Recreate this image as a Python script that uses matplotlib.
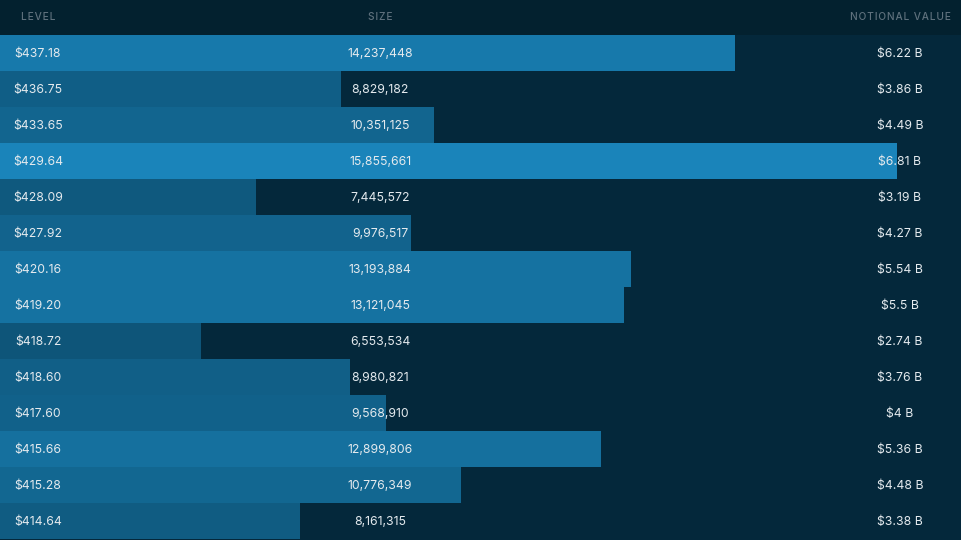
import matplotlib
matplotlib.use("Agg")
import matplotlib.pyplot as plt
from matplotlib.colors import LinearSegmentedColormap, Normalize

# order book levels (top to bottom)
levels = ["$437.18", "$436.75", "$433.65", "$429.64", "$428.09", "$427.92", "$420.16",
          "$419.20", "$418.72", "$418.60", "$417.60", "$415.66", "$415.28", "$414.64"]
sizes = [14237448, 8829182, 10351125, 15855661, 7445572, 9976517, 13193884,
         13121045, 6553534, 8980821, 9568910, 12899806, 10776349, 8161315]
notional = ["$6.22 B", "$3.86 B", "$4.49 B", "$6.81 B", "$3.19 B", "$4.27 B", "$5.54 B",
            "$5.5 B", "$2.74 B", "$3.76 B", "$4 B", "$5.36 B", "$4.48 B", "$3.38 B"]
# bar depth, % of the deepest level
depth = [81.9, 38.0, 48.4, 100.0, 28.5, 45.8, 70.3, 69.6, 22.4, 39.0, 43.0, 67.0, 51.4, 33.4]
headers = ["LEVEL", "SIZE", "NOTIONAL VALUE"]

BODY_BG = "#04283b"
HEAD_BG = "#03212f"
TXT = "#e4eaee"
HEAD_TXT = "#5f717d"

plt.rcParams['font.family'] = ['Inter', 'DejaVu Sans']

fig = plt.figure(figsize=(9.61, 5.40), dpi=100)
fig.patch.set_facecolor(BODY_BG)
ax = fig.add_axes([0, 0, 1, 1])
ax.set_facecolor(BODY_BG)

n = len(levels)
row_px = 36.0
head_rows = 35 / row_px
ax.set_xlim(0, 100 * 961 / 897)
ax.set_ylim(n - 0.5 + 1 / row_px, -0.5 - head_rows)
ax.axis("off")

ax.axhspan(-0.5 - head_rows, -0.5, color=HEAD_BG, lw=0)

cmap = LinearSegmentedColormap.from_list("depth", ["#0e5579", "#1a84ba"])
norm = Normalize(vmin=min(depth), vmax=max(depth))
ax.barh(range(n), depth, height=1.0, color=[cmap(norm(d)) for d in depth], lw=0)


def spaced(s):
    # fake css letter-spacing with hair spaces
    return "\u200a".join(s)


# column centres in axis-fraction units
col_x = [38 / 961, 380 / 961, 900 / 961]
tr = ax.get_yaxis_transform()
for x, h in zip(col_x, headers):
    ax.text(x, -0.5 - head_rows / 2 - 0.01, spaced(h), transform=tr, ha="center", va="center",
            color=HEAD_TXT, fontsize=7.3, fontweight="medium")

for i in range(n):
    y = i + 0.03
    ax.text(col_x[0], y, levels[i], transform=tr, ha="center", va="center", color=TXT, fontsize=8.8)
    ax.text(col_x[1], y, f"{sizes[i]:,}", transform=tr, ha="center", va="center", color=TXT, fontsize=8.8)
    ax.text(col_x[2], y, notional[i], transform=tr, ha="center", va="center", color=TXT, fontsize=8.8)

fig.savefig("out.png", dpi=100, facecolor=BODY_BG)
